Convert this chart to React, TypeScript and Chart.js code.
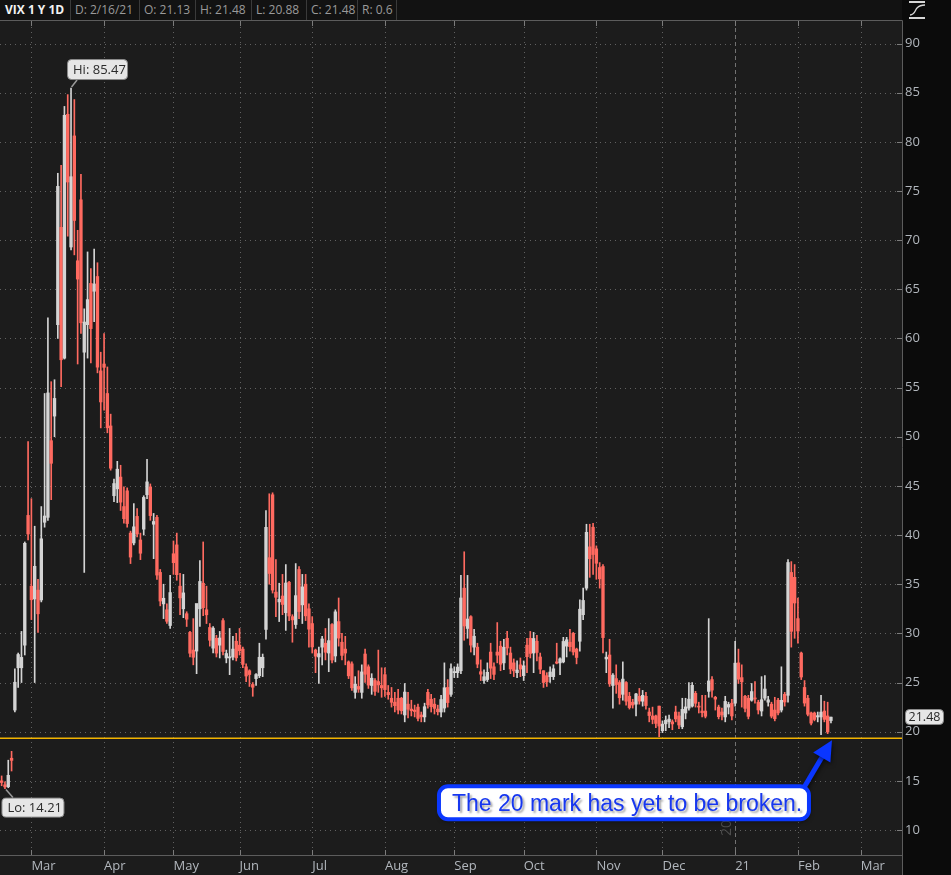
import React, { useEffect, useRef } from 'react';
import { Chart, registerables } from 'chart.js';

Chart.register(...registerables);

// ---------- DATA: daily VIX candles [open, high, low, close] ----------
const feb20 = [
  [15.0, 15.5, 14.5, 14.83], [14.6, 14.9, 14.21, 14.38], [14.4, 17.1, 14.3, 15.56], [17.3, 18.0, 16.0, 17.08],
  [22.2, 26.4, 22.0, 25.03], [26.5, 28.0, 24.5, 27.85], [26.5, 30.2, 25.0, 27.56], [28.8, 39.3, 27.8, 39.16],
  [42.0, 49.5, 39.5, 40.11],
];
const mar20 = [
  [34.8, 43.7, 31.4, 33.42], [33.5, 40.9, 25.0, 36.82], [34.4, 35.5, 30.1, 31.99], [33.4, 42.9, 33.2, 39.62],
  [41.3, 54.4, 40.8, 41.94], [41.8, 62.1, 41.5, 54.46], [49.6, 55.6, 43.6, 47.3], [52.1, 55.8, 50.0, 53.9],
  [61.4, 76.8, 60.0, 75.47], [71.3, 77.6, 55.1, 57.83], [58.0, 83.6, 57.9, 82.69], [82.8, 84.8, 70.4, 75.91],
  [69.3, 85.47, 69.0, 76.45], [80.6, 84.3, 68.5, 72.0], [67.9, 71.0, 57.4, 66.04], [74.1, 76.7, 60.5, 61.59],
  [58.6, 63.0, 36.2, 61.67], [61.4, 68.8, 58.0, 63.95], [65.6, 67.1, 57.5, 61.0], [64.8, 69.1, 61.7, 65.54],
  [66.3, 67.7, 56.5, 57.08], [56.7, 58.6, 50.9, 53.54],
];
const apr20 = [
  [57.4, 60.5, 52.7, 57.06], [54.4, 57.1, 50.4, 50.91], [51.1, 52.3, 46.6, 46.8], [44.0, 45.7, 43.4, 45.24],
  [44.7, 47.5, 43.3, 46.7], [45.9, 47.1, 42.5, 43.35], [42.9, 44.9, 41.2, 41.67], [44.5, 44.8, 40.8, 41.17],
  [40.2, 40.4, 37.1, 37.76], [39.2, 43.2, 39.0, 40.84], [41.9, 42.7, 39.8, 40.11], [39.5, 40.2, 37.5, 38.15],
  [40.6, 44.0, 40.0, 43.83], [44.1, 47.7, 43.7, 45.41], [44.9, 45.2, 41.5, 41.98], [41.1, 42.2, 37.6, 41.38],
  [41.8, 42.0, 35.5, 35.93], [36.2, 36.5, 32.8, 33.29], [33.0, 35.0, 31.5, 33.57], [32.4, 33.0, 31.0, 31.23],
  [30.8, 35.9, 30.5, 34.15],
];
const may20 = [
  [38.1, 39.4, 36.0, 37.19], [39.0, 40.2, 35.4, 35.97], [34.8, 36.1, 31.9, 33.61], [32.5, 36.0, 31.6, 34.12],
  [32.0, 32.2, 30.7, 31.44], [30.1, 30.2, 27.6, 27.98], [28.3, 31.5, 26.8, 27.57], [28.2, 32.9, 25.9, 33.04],
  [32.5, 37.4, 30.7, 35.28], [35.1, 39.3, 31.8, 32.61], [32.4, 34.8, 31.0, 31.89], [30.6, 31.0, 28.7, 29.3],
  [28.5, 30.7, 28.0, 30.53], [29.5, 29.8, 27.6, 27.99], [28.8, 30.2, 27.5, 29.53], [31.3, 31.5, 27.8, 28.16],
  [27.5, 28.3, 27.0, 27.95], [27.5, 30.5, 25.8, 27.62], [27.6, 29.7, 27.3, 28.4], [29.2, 30.0, 27.2, 27.51],
];
const jun20 = [
  [28.8, 30.5, 27.8, 28.23], [28.4, 28.6, 26.5, 26.84], [26.6, 26.9, 25.1, 25.66], [26.2, 26.3, 24.6, 25.81],
  [24.8, 25.0, 23.6, 24.52], [25.4, 25.9, 24.7, 25.81], [25.7, 29.0, 25.5, 27.57], [26.5, 27.9, 25.6, 27.57],
  [30.4, 42.5, 29.4, 40.79], [37.7, 44.2, 35.0, 36.09], [44.1, 44.3, 34.1, 34.4], [34.2, 37.5, 31.7, 33.67],
  [33.2, 35.1, 31.2, 33.47], [33.8, 36.0, 31.9, 32.94], [32.1, 37.0, 30.3, 35.12], [35.2, 35.3, 31.3, 31.77],
  [31.7, 31.9, 29.1, 31.37], [30.9, 37.1, 30.5, 33.84], [36.5, 36.8, 31.5, 32.22], [32.9, 36.0, 31.0, 34.73],
  [35.0, 36.0, 31.3, 31.78], [32.5, 33.0, 28.6, 30.43],
];
const jul20 = [
  [31.0, 31.7, 28.0, 28.62], [28.3, 28.4, 26.0, 27.68], [27.6, 28.6, 24.9, 27.94], [28.6, 29.7, 26.8, 29.43],
  [29.0, 30.5, 27.3, 28.08], [28.0, 31.5, 26.1, 29.26], [30.9, 31.0, 27.0, 27.29], [27.7, 32.4, 27.1, 32.19],
  [31.2, 33.6, 28.7, 29.52], [29.1, 30.0, 27.3, 27.76], [28.4, 29.7, 26.8, 28.0], [27.1, 27.2, 25.4, 25.68],
  [26.9, 27.1, 24.2, 24.46], [24.0, 25.6, 23.4, 24.84], [24.6, 26.2, 24.0, 24.32], [24.0, 26.8, 23.4, 26.08],
  [27.9, 28.4, 25.0, 25.84], [26.6, 26.8, 24.4, 24.74], [24.7, 25.9, 23.8, 25.44], [25.2, 25.4, 23.7, 24.1],
  [25.1, 28.3, 24.0, 24.76], [24.7, 26.5, 23.5, 24.46],
];
const aug20 = [
  [25.8, 26.5, 23.6, 24.28], [24.0, 24.7, 23.3, 23.76], [23.4, 24.5, 22.5, 22.99], [23.0, 24.0, 22.0, 22.65],
  [23.4, 24.3, 21.8, 22.21], [23.4, 23.5, 21.8, 22.13], [21.7, 24.9, 21.0, 24.03], [22.8, 24.0, 21.4, 22.28],
  [22.3, 23.2, 21.6, 22.13], [22.2, 22.7, 21.5, 22.05], [22.5, 22.8, 21.1, 21.35], [21.7, 22.0, 21.0, 21.51],
  [21.5, 22.9, 21.0, 22.54], [24.0, 24.3, 22.4, 22.72], [23.3, 23.8, 22.0, 22.54], [22.8, 23.4, 21.8, 22.37],
  [22.3, 22.7, 21.7, 22.03], [22.0, 23.7, 21.5, 23.27], [22.4, 27.0, 22.0, 24.47], [24.5, 25.3, 22.5, 22.96],
  [23.8, 26.9, 23.6, 26.41],
];
const sep20 = [
  [26.0, 26.6, 25.5, 26.12], [26.0, 26.9, 25.5, 26.57], [26.2, 35.9, 25.9, 33.6], [34.6, 38.3, 29.3, 30.75],
  [30.5, 35.9, 29.5, 31.46], [31.7, 31.8, 28.1, 28.81], [28.6, 30.4, 27.8, 29.71], [28.6, 29.0, 26.5, 26.87],
  [26.1, 27.3, 25.2, 25.85], [25.2, 26.3, 24.9, 25.59], [25.3, 27.0, 25.1, 26.04], [28.1, 29.0, 25.4, 26.46],
  [26.6, 27.0, 25.3, 25.83], [28.1, 31.1, 27.0, 27.78], [28.7, 29.2, 26.2, 26.86], [27.0, 29.4, 26.3, 28.58],
  [29.5, 30.2, 27.8, 28.51], [28.0, 28.6, 25.9, 26.38], [27.0, 27.4, 25.6, 26.19], [26.0, 27.2, 25.5, 26.27],
  [26.8, 27.5, 25.6, 26.37],
];
const oct20 = [
  [25.7, 27.2, 25.2, 26.7], [28.8, 29.5, 26.0, 27.63], [29.5, 30.2, 27.5, 27.96], [28.0, 30.1, 26.0, 29.48],
  [29.2, 29.8, 27.2, 28.06], [27.6, 28.0, 25.9, 26.36], [26.2, 26.2, 24.5, 25.0], [25.7, 26.0, 24.6, 25.07],
  [25.6, 26.6, 25.0, 26.07], [25.6, 26.8, 25.3, 26.4], [27.1, 29.0, 26.9, 26.97], [27.0, 27.5, 25.8, 27.41],
  [27.1, 29.6, 27.0, 29.18], [28.7, 29.6, 27.6, 29.35], [29.1, 30.4, 28.2, 28.65], [30.0, 30.1, 27.8, 28.11],
  [28.4, 28.5, 26.9, 27.55], [29.2, 33.4, 28.2, 32.46], [31.9, 34.6, 31.4, 33.35], [34.6, 41.1, 34.4, 40.28],
  [38.8, 41.1, 35.7, 37.59], [40.8, 41.2, 36.0, 38.02],
];
const nov20 = [
  [38.6, 38.9, 35.5, 37.13], [36.7, 37.2, 34.6, 35.55], [36.8, 37.0, 28.0, 29.57], [27.4, 28.1, 26.0, 27.58],
  [27.8, 29.4, 24.6, 24.86], [24.7, 25.9, 22.4, 25.75], [25.4, 26.8, 23.9, 24.8], [25.0, 25.2, 22.8, 23.45],
  [23.8, 27.1, 23.2, 25.35], [25.0, 25.1, 22.7, 23.1], [23.6, 24.0, 22.3, 22.45], [23.0, 23.3, 22.4, 22.71],
  [22.8, 23.9, 21.6, 23.84], [23.6, 24.4, 22.8, 23.11], [23.1, 24.2, 22.6, 23.7], [23.6, 24.0, 22.3, 22.66],
  [22.0, 22.4, 21.0, 21.64], [21.6, 22.5, 20.8, 21.25], [21.6, 21.7, 20.4, 20.84], [22.6, 22.6, 19.5, 20.57],
];
const dec20 = [
  [20.1, 21.1, 19.9, 20.77], [20.8, 21.6, 20.1, 21.17], [21.0, 21.7, 20.4, 21.28], [21.0, 21.2, 20.2, 20.79],
  [22.0, 22.6, 21.0, 21.3], [21.6, 22.0, 20.3, 20.68], [20.5, 23.4, 20.3, 22.27], [21.9, 23.4, 21.3, 22.52],
  [22.4, 25.0, 22.2, 23.31], [22.6, 25.0, 22.5, 24.72], [23.9, 24.1, 22.5, 22.89], [22.6, 23.0, 21.9, 22.5],
  [22.1, 23.7, 21.5, 21.93], [22.1, 23.7, 21.4, 21.57], [24.1, 31.5, 23.5, 25.16], [25.3, 25.6, 23.5, 24.23],
  [23.5, 23.6, 22.2, 23.31], [22.5, 22.7, 21.3, 21.53], [22.0, 22.4, 21.2, 21.7], [21.5, 23.6, 21.0, 23.08],
  [22.5, 23.0, 21.8, 22.77], [22.9, 23.3, 21.2, 21.6],
];
const jan21 = [
  [22.9, 29.2, 22.6, 26.97], [27.0, 28.4, 24.9, 25.34], [25.5, 26.8, 22.5, 25.07], [23.6, 23.7, 22.0, 22.37],
  [23.4, 23.7, 21.3, 21.56], [23.2, 24.9, 23.1, 24.08], [23.4, 25.1, 22.9, 23.33], [23.0, 23.2, 21.8, 22.21],
  [22.1, 25.6, 21.6, 23.25], [23.4, 25.7, 23.2, 24.34], [23.0, 23.6, 22.6, 23.24], [22.8, 23.0, 21.4, 21.58],
  [22.2, 23.5, 21.1, 21.32], [23.2, 23.4, 21.7, 21.91], [22.2, 26.6, 22.0, 23.19], [23.8, 24.0, 22.6, 23.02],
  [23.7, 37.5, 23.0, 37.21], [36.2, 37.3, 28.6, 30.21], [35.7, 37.0, 29.5, 33.09],
];
const feb21 = [
  [31.5, 33.6, 29.0, 30.24], [28.0, 28.1, 25.3, 25.56], [24.5, 25.2, 22.6, 22.91], [23.4, 23.7, 21.6, 21.77],
  [21.9, 22.0, 20.7, 20.87], [21.9, 22.0, 21.1, 21.24], [21.5, 22.0, 21.0, 21.63], [21.5, 23.7, 19.7, 21.99],
  [22.1, 23.1, 21.0, 21.25], [21.6, 23.0, 19.8, 19.97], [21.13, 21.48, 20.88, 21.48],
];

const holidays = ['2020-04-10', '2020-05-25', '2020-07-03', '2020-09-07', '2020-11-26', '2020-12-25', '2021-01-01', '2021-01-18', '2021-02-15'];
const firstDay = '2020-02-18';
const slotCount = 273; // trading-day slots shown on the axis (data + future space)
const yTicks = [10, 15, 20, 25, 30, 35, 40, 45, 50, 55, 60, 65, 70, 75, 80, 85, 90];
const monthNames = ['Jan', 'Feb', 'Mar', 'Apr', 'May', 'Jun', 'Jul', 'Aug', 'Sep', 'Oct', 'Nov', 'Dec'];
const supportLevel = 19.33;
const symbolTitle = 'VIX 1 Y 1D';
const calloutText = 'The 20 mark has yet to be broken.';

// ---------- derived ----------
const ohlc = [...feb20, ...mar20, ...apr20, ...may20, ...jun20, ...jul20, ...aug20, ...sep20, ...oct20, ...nov20, ...dec20, ...jan21, ...feb21];

function tradingDays(): string[] {
  const out: string[] = [];
  const d = new Date(firstDay + 'T00:00:00Z');
  while (out.length < slotCount) {
    const dow = d.getUTCDay();
    const iso = d.toISOString().slice(0, 10);
    if (dow !== 0 && dow !== 6 && !holidays.includes(iso)) out.push(iso);
    d.setUTCDate(d.getUTCDate() + 1);
  }
  return out;
}
const labels = tradingDays();
const monthIdx = labels.map((d, i) => (i > 0 && d.slice(0, 7) !== labels[i - 1].slice(0, 7) ? i : -1)).filter((i) => i >= 0);
const yearIdx = labels.findIndex((d, i) => i > 0 && d.slice(0, 4) !== labels[i - 1].slice(0, 4));
const monthLabel = (i: number) => {
  const m = +labels[i].slice(5, 7);
  return m === 1 ? labels[i].slice(2, 4) : monthNames[m - 1];
};

const UP = '#d4d4d4';
const DOWN = '#ff6a60';
const AXIS_TEXT = '#b2b7bd';
const FONT = '"Open Sans", sans-serif';

const colors = ohlc.map(([o, , , c]) => (c >= o ? UP : DOWN));
const lastIdx = ohlc.length - 1;
const last = ohlc[lastIdx];
const hiIdx = ohlc.reduce((b, d, i) => (d[1] > ohlc[b][1] ? i : b), 0);
const loIdx = ohlc.reduce((b, d, i) => (d[2] < ohlc[b][2] ? i : b), 0);
const lastDate = (() => {
  const d = labels[lastIdx];
  return `${+d.slice(5, 7)}/${+d.slice(8, 10)}/${d.slice(2, 4)}`;
})();

function labelBox(ctx: CanvasRenderingContext2D, x: number, y: number, w: number, h: number, text: string, size = 13, center = false) {
  ctx.beginPath();
  ctx.roundRect(x + 0.5, y + 0.5, w, h, 4);
  ctx.fillStyle = '#e6e6e6';
  ctx.fill();
  ctx.strokeStyle = '#8a8a8a';
  ctx.lineWidth = 1;
  ctx.stroke();
  ctx.fillStyle = '#2a2a2a';
  ctx.font = `${size}px ${FONT}`;
  ctx.textAlign = center ? 'center' : 'left';
  ctx.textBaseline = 'middle';
  ctx.fillText(text, center ? x + w / 2 + 0.5 : x + 6, y + h / 2 + 1);
}

const backdrop = {
  id: 'backdrop',
  beforeDraw(chart: any) {
    const { ctx, chartArea: a, width, height } = chart;
    const xs = chart.scales.x;
    const ys = chart.scales.y;
    ctx.save();
    ctx.fillStyle = '#0b0b0b';
    ctx.fillRect(0, 0, width, height);
    ctx.fillStyle = '#1c1c1c';
    ctx.fillRect(a.left, a.top, a.right - a.left, height - a.top);
    ctx.lineWidth = 1;
    // dotted grid
    ctx.strokeStyle = '#616161';
    ctx.setLineDash([1, 4]);
    for (const v of yTicks) {
      const py = Math.round(ys.getPixelForValue(v)) + 0.5;
      ctx.beginPath();
      ctx.moveTo(a.left, py);
      ctx.lineTo(a.right - 5, py);
      ctx.stroke();
    }
    for (const i of monthIdx) {
      if (i === yearIdx) continue;
      const px = Math.round(xs.getPixelForValue(i)) + 0.5;
      ctx.beginPath();
      ctx.moveTo(px, a.top + 6);
      ctx.lineTo(px, a.bottom - 6);
      ctx.stroke();
    }
    // year separator
    ctx.strokeStyle = '#727272';
    ctx.setLineDash([4, 3]);
    const yx = Math.round(xs.getPixelForValue(yearIdx)) + 0.5;
    ctx.beginPath();
    ctx.moveTo(yx, a.top);
    ctx.lineTo(yx, a.bottom);
    ctx.stroke();
    ctx.setLineDash([]);
    // short solid ticks
    ctx.strokeStyle = '#7c7c7c';
    for (const v of yTicks) {
      const py = Math.round(ys.getPixelForValue(v)) + 0.5;
      ctx.beginPath();
      ctx.moveTo(a.right - 5, py);
      ctx.lineTo(a.right, py);
      ctx.stroke();
    }
    for (const i of monthIdx) {
      const px = Math.round(xs.getPixelForValue(i)) + 0.5;
      ctx.beginPath();
      ctx.moveTo(px, a.top);
      ctx.lineTo(px, a.top + 5);
      ctx.moveTo(px, a.bottom - 5);
      ctx.lineTo(px, a.bottom);
      ctx.stroke();
    }
    // frame
    ctx.strokeStyle = '#5c5c5c';
    ctx.beginPath();
    ctx.moveTo(0, a.top - 0.5);
    ctx.lineTo(a.right + 0.5, a.top - 0.5);
    ctx.moveTo(a.right + 0.5, a.top - 0.5);
    ctx.lineTo(a.right + 0.5, height);
    ctx.moveTo(0, a.bottom + 0.5);
    ctx.lineTo(a.right + 0.5, a.bottom + 0.5);
    ctx.stroke();
    // year text (rotated)
    ctx.save();
    ctx.translate(yx - 8, a.bottom - 19);
    ctx.rotate(-Math.PI / 2);
    ctx.fillStyle = '#4e4e4e';
    ctx.font = `14px ${FONT}`;
    ctx.textAlign = 'left';
    ctx.textBaseline = 'middle';
    ctx.fillText(labels[yearIdx].slice(0, 4), 0, 0);
    ctx.restore();
    ctx.restore();
  },
  afterDatasetsDraw(chart: any) {
    const { ctx, chartArea: a } = chart;
    const py = chart.scales.y.getPixelForValue(supportLevel);
    ctx.save();
    ctx.strokeStyle = '#f2b300';
    ctx.lineWidth = 1.3;
    ctx.beginPath();
    ctx.moveTo(a.left, py);
    ctx.lineTo(a.right, py);
    ctx.stroke();
    ctx.restore();
  },
  afterDraw(chart: any) {
    const { ctx, chartArea: a } = chart;
    const xs = chart.scales.x;
    const ys = chart.scales.y;
    ctx.save();
    // Hi label
    const hx = xs.getPixelForValue(hiIdx);
    const hy = ys.getPixelForValue(ohlc[hiIdx][1]);
    ctx.strokeStyle = '#9a9a9a';
    ctx.lineWidth = 1.5;
    ctx.beginPath();
    ctx.moveTo(hx + 0.5, hy - 1);
    ctx.lineTo(hx + 6, hy - 8);
    ctx.stroke();
    labelBox(ctx, hx - 4, hy - 29, 60, 20, `Hi: ${ohlc[hiIdx][1].toFixed(2)}`);
    // Lo label
    const lx = xs.getPixelForValue(loIdx);
    const ly = ys.getPixelForValue(ohlc[loIdx][2]);
    ctx.strokeStyle = '#9a9a9a';
    ctx.lineWidth = 1.5;
    ctx.beginPath();
    ctx.moveTo(lx + 1, ly + 1);
    ctx.lineTo(lx + 8, ly + 9);
    ctx.stroke();
    labelBox(ctx, lx - 3.5, ly + 9, 62, 19, `Lo: ${ohlc[loIdx][2].toFixed(2)}`);
    // last price label on the axis
    const cy = ys.getPixelForValue(last[3]);
    labelBox(ctx, a.right + 3, Math.round(cy) - 8, 38, 15, last[3].toFixed(2), 12.5, true);

    // arrow + callout
    const tx = xs.getPixelForValue(lastIdx) + 1;
    const ty = ys.getPixelForValue(supportLevel) + 2;
    const sx = tx - 29;
    const sy = ty + 49;
    const dx = tx - sx;
    const dy = ty - sy;
    const len = Math.hypot(dx, dy);
    const ux = dx / len;
    const uy = dy / len;
    const bx = tx - ux * 20;
    const by = ty - uy * 20;
    const nx = -uy;
    const ny = ux;
    ctx.save();
    ctx.shadowColor = 'rgba(0,0,0,0.55)';
    ctx.shadowBlur = 4;
    ctx.shadowOffsetX = 1;
    ctx.shadowOffsetY = 2;
    ctx.strokeStyle = '#0a36ff';
    ctx.lineWidth = 5;
    ctx.beginPath();
    ctx.moveTo(sx, sy);
    ctx.lineTo(bx + ux * 2, by + uy * 2);
    ctx.stroke();
    ctx.beginPath();
    ctx.moveTo(tx, ty);
    ctx.lineTo(bx + nx * 10, by + ny * 10);
    ctx.lineTo(bx - nx * 10, by - ny * 10);
    ctx.closePath();
    ctx.fillStyle = '#0a36ff';
    ctx.fill();
    ctx.restore();

    const boxX = tx - 393;
    const boxY = ty + 46;
    ctx.save();
    ctx.shadowColor = 'rgba(0,0,0,0.6)';
    ctx.shadowBlur = 4;
    ctx.shadowOffsetX = 1;
    ctx.shadowOffsetY = 2;
    ctx.beginPath();
    ctx.roundRect(boxX, boxY, 370, 33, 9);
    ctx.fillStyle = '#ffffff';
    ctx.fill();
    ctx.restore();
    ctx.beginPath();
    ctx.roundRect(boxX, boxY, 370, 33, 9);
    ctx.strokeStyle = '#0b38ff';
    ctx.lineWidth = 4;
    ctx.stroke();
    ctx.save();
    ctx.shadowColor = 'rgba(60,60,60,0.45)';
    ctx.shadowBlur = 2;
    ctx.shadowOffsetX = 2;
    ctx.shadowOffsetY = 2;
    ctx.fillStyle = '#1737f0';
    ctx.font = '23px "Liberation Sans", Arial, sans-serif';
    ctx.textAlign = 'left';
    ctx.textBaseline = 'alphabetic';
    ctx.fillText(calloutText, boxX + 13, boxY + 25);
    ctx.restore();

    // top-right study icon
    ctx.strokeStyle = '#d8d8d8';
    ctx.lineWidth = 2;
    ctx.beginPath();
    ctx.moveTo(909, 2);
    ctx.lineTo(925, 2);
    ctx.moveTo(909, 18);
    ctx.lineTo(925, 18);
    ctx.stroke();
    ctx.lineWidth = 1.3;
    ctx.beginPath();
    ctx.moveTo(910, 15);
    ctx.bezierCurveTo(915, 15, 915, 10, 917, 8);
    ctx.bezierCurveTo(919, 6, 921, 5, 925, 5);
    ctx.stroke();
    ctx.restore();
  },
};

const headerCells = [
  { text: symbolTitle, x: 5, bold: true },
  { text: `D: ${lastDate}`, x: 75 },
  { text: `O: ${last[0].toFixed(2)}`, x: 144 },
  { text: `H: ${last[1].toFixed(2)}`, x: 200 },
  { text: `L: ${last[2].toFixed(2)}`, x: 256 },
  { text: `C: ${last[3].toFixed(2)}`, x: 311 },
  { text: `R: ${(last[1] - last[2]).toFixed(1)}`, x: 362 },
];
const headerSeparators = [70, 139, 195, 251, 306, 357, 396];

export default function App() {
  const ref = useRef<HTMLCanvasElement>(null);
  useEffect(() => {
    const canvas = ref.current;
    if (!canvas) return;
    const chart = new Chart(canvas, {
      type: 'bar',
      data: {
        labels,
        datasets: [
          {
            label: 'body',
            data: ohlc.map(([o, , , c]) => [Math.min(o, c), Math.max(o, c)]),
            backgroundColor: colors,
            borderWidth: 0,
            barThickness: 2.7,
            minBarLength: 1,
            grouped: false,
          } as any,
          {
            label: 'wick',
            data: ohlc.map(([, h, l]) => [l, h]),
            backgroundColor: colors,
            borderWidth: 0,
            barThickness: 1,
            minBarLength: 1,
            grouped: false,
          } as any,
        ],
      },
      options: {
        responsive: false,
        devicePixelRatio: 1,
        animation: false,
        events: [],
        layout: { padding: { top: 21, left: 0, right: 0, bottom: 0 } },
        plugins: { legend: { display: false }, tooltip: { enabled: false } },
        scales: {
          x: {
            type: 'category',
            offset: true,
            grid: { display: false, drawTicks: false },
            border: { display: false },
            ticks: {
              autoSkip: false,
              maxRotation: 0,
              minRotation: 0,
              align: 'start',
              padding: 3,
              color: AXIS_TEXT,
              font: { size: 13, family: FONT },
              callback: (v: any) => monthLabel(Number(v)),
            },
            afterBuildTicks: (s: any) => {
              s.ticks = monthIdx.map((i) => ({ value: i }));
            },
            afterFit: (s: any) => {
              s.height = 20;
            },
          },
          y: {
            type: 'linear',
            position: 'right',
            min: 7.457,
            max: 92.289,
            grid: { display: false, drawTicks: false },
            border: { display: false },
            ticks: {
              padding: 3,
              color: AXIS_TEXT,
              font: { size: 13, family: FONT },
              callback: (v: any) => String(v),
            },
            afterBuildTicks: (s: any) => {
              s.ticks = yTicks.map((v) => ({ value: v }));
            },
            afterFit: (s: any) => {
              s.width = 49;
            },
          },
        },
      } as any,
      plugins: [backdrop],
    });
    return () => chart.destroy();
  }, []);

  return (
    <div style={{ position: 'fixed', left: 0, top: 0, width: 951, height: 875, background: '#0b0b0b', overflow: 'hidden' }}>
      <canvas ref={ref} width={951} height={875} style={{ display: 'block', width: 951, height: 875 }} />
      <div
        style={{
          position: 'absolute',
          left: 0,
          top: 0,
          width: 902,
          height: 20,
          background: '#121212',
          fontFamily: FONT,
          fontSize: 12,
          lineHeight: '20px',
          color: '#9a9a9a',
        }}
      >
        {headerCells.map((c) => (
          <span
            key={c.text}
            style={{
              position: 'absolute',
              left: c.x,
              top: 0,
              whiteSpace: 'nowrap',
              fontWeight: c.bold ? 700 : 400,
              color: c.bold ? '#f2f2f2' : '#9a9a9a',
            }}
          >
            {c.text}
          </span>
        ))}
        {headerSeparators.map((x) => (
          <div key={x} style={{ position: 'absolute', left: x, top: 0, width: 1, height: 20, background: '#3a3a3a' }} />
        ))}
      </div>
    </div>
  );
}
